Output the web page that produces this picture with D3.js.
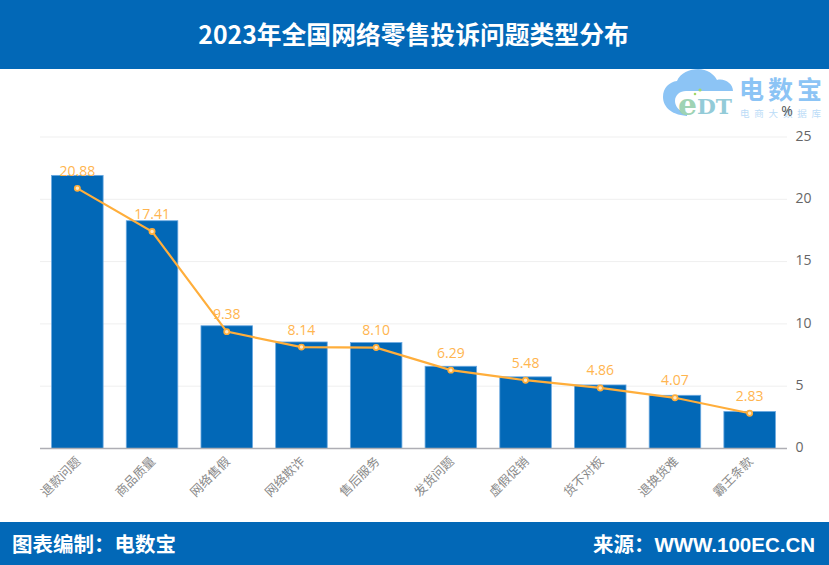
<!DOCTYPE html>
<html><head><meta charset="utf-8">
<style>html,body{margin:0;padding:0;background:#fff}svg{display:block}text{font-family:"Noto Sans CJK SC","Liberation Sans",sans-serif}</style>
<script src="https://cdnjs.cloudflare.com/ajax/libs/d3/7.8.5/d3.min.js"></script>
</head><body><div id="c"></div>
<script>
const categories=["退款问题","商品质量","网络售假","网络欺诈","售后服务","发货问题","虚假促销","货不对板","退换货难","霸王条款"];
const barValues=[21.92,18.28,9.85,8.55,8.5,6.6,5.75,5.1,4.27,2.97];
const lineValues=[20.88,17.41,9.38,8.14,8.10,6.29,5.48,4.86,4.07,2.83];
const yTicks=[0,5,10,15,20,25];
const titleText="2023年全国网络零售投诉问题类型分布";
const footerLeft="图表编制：电数宝";
const footerRight="来源：WWW.100EC.CN";
const W=829,H=565,blue="#0268b7",orange="#ffae3b";
const svg=d3.select("#c").append("svg").attr("width",W).attr("height",H);
const x=d3.scaleBand().domain(categories).range([40,787]).paddingInner(0.31).paddingOuter(0.155);
const y=d3.scaleLinear().domain([0,25]).range([448.5,137]);
svg.append("rect").attr("width",W).attr("height",69).attr("fill",blue);
svg.append("rect").attr("y",522).attr("width",W).attr("height",43).attr("fill",blue);
svg.append("text").attr("x",413.5).attr("y",44).attr("text-anchor","middle").attr("fill","#fff").attr("font-size",24.8).attr("font-weight",700).text(titleText);
svg.append("text").attr("x",12).attr("y",552).attr("fill","#fff").attr("font-size",20.5).attr("font-weight",700).text(footerLeft);
svg.append("text").attr("x",815).attr("y",552).attr("text-anchor","end").attr("fill","#fff").attr("font-size",20.5).attr("font-weight",700).style("font-family",'"Liberation Sans","Noto Sans CJK SC"').text(footerRight);
// logo
const logo=svg.append("g");
const cloud="#8cc4f5";
logo.append("path").attr("fill",cloud).attr("d","M690 116 C672 116 663 107 663 97 C663 88 669 82 677 81 C680 73 690 69 698 69 C707 69 714 74 717 80 C725 78 733 84 733 91 L733 94 L690 96 Z");
logo.append("path").attr("fill","#fff").attr("d","M687 113 C679 112 675 106 675 101 C675 95 680 91 686 91 L735 91 L735 118 L687 118 Z");
logo.append("text").attr("x",678).attr("y",115).attr("font-size",30).attr("font-weight",700).attr("fill","#9fd3b4").style("font-family",'"DejaVu Serif"').attr("textLength",19).attr("lengthAdjust","spacingAndGlyphs").text("e");
logo.append("text").attr("x",697).attr("y",114).attr("font-size",20).attr("font-weight",700).attr("fill","#93cbd8").style("font-family",'"DejaVu Serif"').attr("textLength",35).attr("lengthAdjust","spacingAndGlyphs").text("DT");
logo.append("circle").attr("cx",700).attr("cy",90).attr("r",1.6).attr("fill","#a5d86a");
logo.append("circle").attr("cx",695).attr("cy",94).attr("r",1.3).attr("fill","#a5d86a");
logo.append("text").attr("x",739).attr("y",99).attr("font-size",25).attr("font-weight",700).attr("fill","#8cc4f5").attr("textLength",83).text("电数宝");
logo.append("text").attr("x",740).attr("y",117).attr("font-size",9.5).attr("fill","#bcdcf7").attr("textLength",81).text("电商大数据库");
// grid
svg.append("g").selectAll("line").data(yTicks.slice(1)).join("line").attr("x1",40).attr("x2",787).attr("y1",d=>y(d)).attr("y2",d=>y(d)).attr("stroke","#efefef");
// bars
svg.append("g").selectAll("rect").data(barValues).join("rect").attr("x",(d,i)=>x(categories[i])).attr("width",x.bandwidth()).attr("y",d=>y(d)).attr("height",d=>y(0)-y(d)).attr("fill",blue).attr("stroke","#6aa8e0").attr("stroke-width",0.8);
// baseline
svg.append("line").attr("x1",40).attr("x2",787).attr("y1",y(0)).attr("y2",y(0)).attr("stroke","#aeaeb4").attr("stroke-width",1.4);
// y axis
const ax=svg.append("g").attr("transform","translate(795.5,-1.5)").call(d3.axisRight(y).tickValues(yTicks).tickSize(0).tickPadding(0));
ax.select(".domain").remove();
ax.selectAll("text").attr("font-size",14).attr("fill","#666").style("font-family",'"Open Sans"').attr("dy","0.34em");
svg.append("text").attr("x",787).attr("y",116).attr("text-anchor","middle").attr("font-size",14).attr("fill","#555").style("font-family",'"Open Sans"').text("%");
// x labels
const cx=c=>x(c)+x.bandwidth()/2;
svg.append("g").selectAll("text").data(categories).join("text").attr("text-anchor","end").attr("font-size",12.5).attr("fill","#8a8a8a")
 .attr("transform",d=>`translate(${cx(d)+1},${459}) rotate(-45)`).attr("dy","0.35em").text(d=>d);
// line
const line=d3.line().x((d,i)=>cx(categories[i])).y(d=>y(d));
svg.append("path").attr("d",line(lineValues)).attr("fill","none").attr("stroke",orange).attr("stroke-width",2.2);
svg.append("g").selectAll("circle").data(lineValues).join("circle").attr("cx",(d,i)=>cx(categories[i])).attr("cy",d=>y(d)).attr("r",2.6).attr("fill","#ffe9c4").attr("stroke",orange).attr("stroke-width",1.7);
svg.append("g").selectAll("text").data(lineValues).join("text").attr("x",(d,i)=>cx(categories[i])).attr("y",d=>y(d)-12.5).attr("text-anchor","middle").attr("font-size",14).attr("fill","#ffb54f").style("font-family",'"Open Sans"').text(d=>d.toFixed(2));
</script></body></html>
